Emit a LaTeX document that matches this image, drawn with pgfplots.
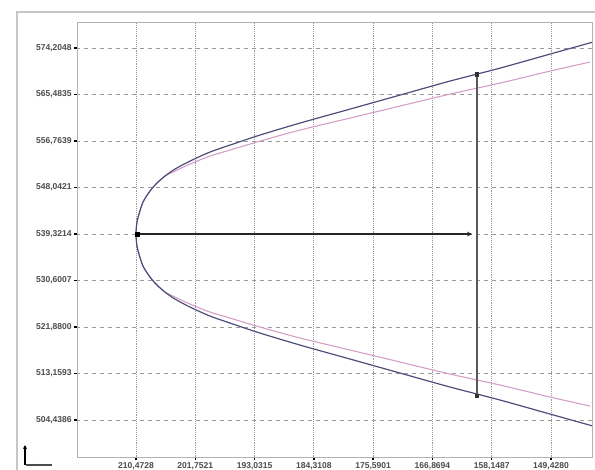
\documentclass[border=0pt]{standalone}
\usepackage{fontspec}
\setmainfont{Liberation Sans}
\usepackage{pgfplots}
\pgfplotsset{compat=1.18}
\usetikzlibrary{arrows.meta}
\definecolor{darkcurve}{HTML}{4E4E7C}
\definecolor{pinkcurve}{HTML}{D49CC6}
\definecolor{gridgray}{HTML}{9A9A9A}
\begin{document}
\begin{tikzpicture}
% page = 595 x 469 px, 1 px = 0.75pt
\useasboundingbox (0,0) rectangle (446.25pt,351.75pt);
\fill[white] (0,0) rectangle (446.25pt,351.75pt);
\draw[gray!45, line width=0.8pt] (12.75pt,-2pt) rectangle (450pt,342.75pt);
\begin{axis}[
  at={(57.75pt,9pt)}, anchor=south west,
  width=386.25pt, height=326.25pt, scale only axis,
  x dir=reverse,
  xmin=143.40, xmax=219.15, ymin=497.5, ymax=579.1,
  xtick={210.4728,201.7521,193.0314,184.3107,175.5901,166.8694,158.1487,149.4280},
  xticklabels={210{,}4728,201{,}7521,193{,}0315,184{,}3108,175{,}5901,166{,}8694,158{,}1487,149{,}4280},
  ytick={504.4386,513.1593,521.8800,530.6007,539.3214,548.0421,556.7628,565.4835,574.2048},
  yticklabels={504{,}4386,513{,}1593,521{,}8800,530{,}6007,539{,}3214,548{,}0421,556{,}7639,565{,}4835,574{,}2048},
  xmajorgrids, ymajorgrids,
  x grid style={densely dotted, gridgray, line width=0.7pt},
  y grid style={dash pattern=on 3pt off 3pt, gridgray, line width=0.6pt},
  axis line style={gray!60, line width=0.7pt},
  tick style={black, line width=1pt},
  major tick length=2pt, tick align=outside,
  xtick pos=bottom, ytick pos=left,
  tick label style={font=\fontsize{6.4}{7}\selectfont\bfseries, text=black!70},
  xticklabel style={yshift=1.5pt},
  yticklabel style={xshift=1.5pt},
]
% inner (pink) curve
\addplot[pinkcurve, line width=0.8pt, smooth] coordinates {
  (143.701,507.06) (149.582,508.75) (156.935,511.00) (164.289,513.06) (171.644,515.32)
  (178.998,517.57) (186.351,519.82) (192.235,521.88) (196.647,523.57) (199.589,524.69)
  (202.530,526.19) (204.737,527.51) (206.207,528.44) (207.384,529.76) (208.414,531.26)
  (209.443,533.32) (210.031,535.57) (210.326,537.07) (210.4728,539.32)
  (210.326,541.57) (210.031,543.07) (209.443,545.32) (208.414,547.39) (207.384,548.89)
  (206.207,550.20) (204.737,551.14) (202.530,552.45) (199.589,553.95) (196.647,555.08)
  (192.235,556.76) (186.351,558.83) (178.998,561.08) (171.644,563.33) (164.289,565.58)
  (156.935,567.64) (149.582,569.89) (143.701,571.58)
};
% outer (dark) curve
\addplot[darkcurve, line width=0.9pt, smooth] coordinates {
  (142.228,502.94) (149.582,505.56) (156.935,508.19) (164.289,510.63) (171.644,513.25)
  (178.998,515.88) (186.351,518.50) (192.235,520.75) (196.647,522.63) (199.589,523.94)
  (202.530,525.63) (204.737,527.13) (206.207,528.44) (207.384,529.76) (208.414,531.26)
  (209.443,533.32) (210.031,535.57) (210.326,537.07) (210.4728,539.32)
  (210.326,541.57) (210.031,543.07) (209.443,545.32) (208.414,547.39) (207.384,548.89)
  (206.207,550.20) (204.737,551.51) (202.530,553.01) (199.589,554.70) (196.647,556.01)
  (192.235,557.89) (186.351,560.14) (178.998,562.76) (171.644,565.39) (164.289,568.02)
  (156.935,570.45) (149.582,573.08) (142.228,575.71)
};
% vertical measure line
\addplot[black!65, line width=0.8pt] coordinates {(160.32,569.33) (160.32,508.95)};
\addplot[only marks, mark=square*, mark size=1.3pt, black!80] coordinates {(160.32,569.33) (160.32,508.95)};
% horizontal arrow from the vertex
\addplot[black!85, line width=0.9pt, -{Stealth[length=4pt,width=3.5pt]}] coordinates {(210.4728,539.3214) (161.0,539.3214)};
\addplot[only marks, mark=square*, mark size=1.6pt, black] coordinates {(210.30,539.3214)};
\end{axis}
% axis indicator at bottom left
\draw[black, line width=1.2pt, -{Stealth[length=3pt,width=3pt]}] (18.75pt,3pt) -- (18.75pt,18pt);
\draw[black!70, line width=0.8pt] (19.5pt,3pt) -- (39pt,3pt);
\fill[black!70] (26pt,3pt) circle (0.9pt);
\end{tikzpicture}
\end{document}
